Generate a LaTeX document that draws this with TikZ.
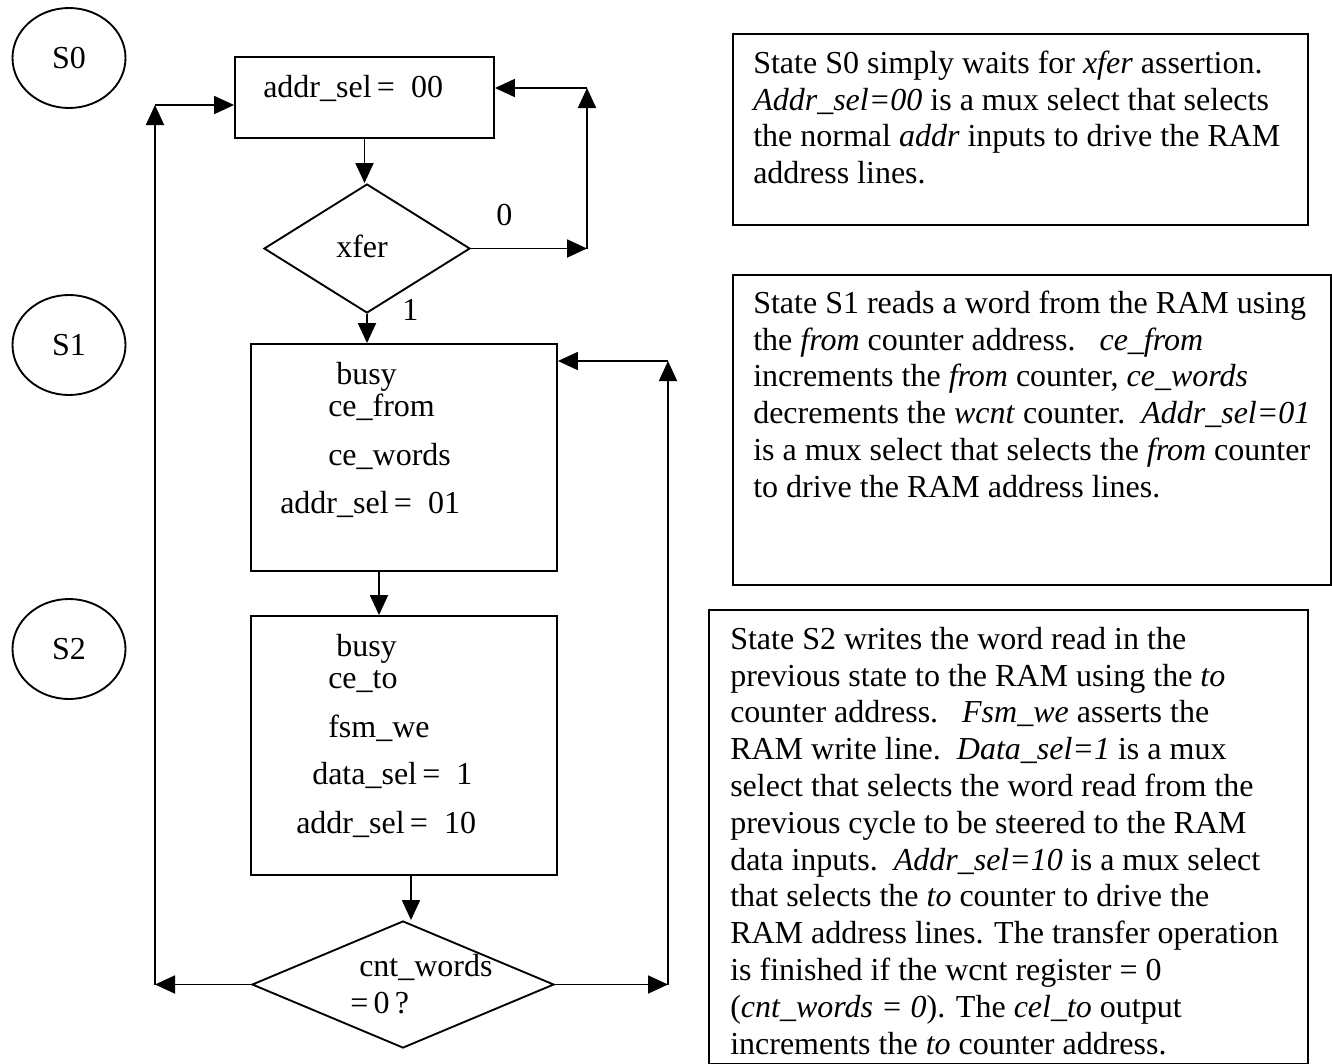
\documentclass[tikz,border=0pt]{standalone}
\usepackage{fontspec}
\setmainfont{Liberation Serif}
\usetikzlibrary{shapes.geometric,arrows.meta}
\begin{document}
\begin{tikzpicture}[x=0.75pt,y=-0.75pt,
  font=\fontsize{24}{27.6}\selectfont,
  ln/.style={line width=1.4pt},
  arr/.style={ln,-{Triangle[length=15pt,width=13.5pt]}},
  stbox/.style={draw,ln,rectangle,inner sep=0pt},
  dec/.style={draw,ln,diamond,inner sep=0pt},
  stlbl/.style={draw,ln,ellipse,inner sep=0pt,minimum width=84.75pt,minimum height=75pt},
  lbl/.style={inner sep=0pt,anchor=base west},
  note/.style={draw,ln,rectangle,inner sep=0pt,anchor=north west},
  notetext/.style={inner sep=0pt,anchor=north west,align=left}
]
\useasboundingbox (0,0) rectangle (1332,1064);

% state labels
\node[stlbl] (st0) at (69,58) {S0};
\node[stlbl] (st1) at (69,345) {S1};
\node[stlbl] (st2) at (69,649) {S2};

% flowchart shapes
\node[stbox,minimum width=194.25pt,minimum height=60.75pt] (s0box) at (364.5,97.5) {};
\node[dec,minimum width=154.5pt,minimum height=96.75pt] (xfer) at (367,248.5) {};
\node[stbox,minimum width=229.5pt,minimum height=170.25pt] (s1box) at (404,457.5) {};
\node[stbox,minimum width=229.5pt,minimum height=194.25pt] (s2box) at (404,745.5) {};
\node[dec,minimum width=226.5pt,minimum height=95.25pt] (cnt) at (403,984.5) {};

% texts in shapes
\node[lbl] (t00) at (263,97) {addr\_sel\,=~~00};
\node[lbl] (tx) at (336,257) {xfer};
\node[lbl] (tzero) at (496,225) {0};
\node[lbl] (tone) at (402,320) {1};
\node[lbl] (t11) at (336,384) {busy};
\node[lbl] (t12) at (328,416) {ce\_from};
\node[lbl] (t13) at (328,465) {ce\_words};
\node[lbl] (t14) at (280,513) {addr\_sel\,=~~01};
\node[lbl] (t21) at (336,656) {busy};
\node[lbl] (t22) at (328,688) {ce\_to};
\node[lbl] (t23) at (328,737) {fsm\_we};
\node[lbl] (t24) at (312,784) {data\_sel\,=~~1};
\node[lbl] (t25) at (296,833) {addr\_sel\,=~~10};
\node[lbl] (tc1) at (359,976) {cnt\_words};
\node[lbl] (tc2) at (350,1013) {=\,0\,?};

% helper coordinates
\coordinate (r0) at (587,248.5);
\coordinate (r0t) at (587,88);
\coordinate (a1) at (379,0);
\coordinate (a2) at (411,0);
\coordinate (l0) at (155,984.5);
\coordinate (l1) at (155,105);
\coordinate (q0) at (668,984.5);
\coordinate (q1) at (668,361);

% connectors
\draw[arr] (s0box.south) -- (s0box.south |- xfer.north);
\draw[arr] (xfer.east) -- (r0);
\draw[arr] (r0) -- (r0t);
\draw[arr] (r0t) -- (r0t -| s0box.east);
\draw[arr] (xfer.south) -- (xfer.south |- s1box.north);
\draw[arr] (s1box.south -| a1) -- (s2box.north -| a1);
\draw[arr] (s2box.south -| a2) -- (cnt.north -| a2);
\draw[arr] (cnt.west) -- (l0);
\draw[arr] (l0) -- (l1);
\draw[arr] (l1) -- (l1 -| s0box.west);
\draw[arr] (cnt.east) -- (q0);
\draw[arr] (q0) -- (q1);
\draw[arr] (q1) -- (q1 -| s1box.east);

% note boxes
\node[note,minimum width=431.25pt,minimum height=143.25pt] (n1) at (732,33) {};
\node[note,minimum width=448.5pt,minimum height=232.5pt] (n2) at (732,274) {};
\node[note,minimum width=449.25pt,minimum height=340.5pt] (n3) at (708,609) {};

\node[notetext] (n1t) at (753,47.2) {\strut State S0 simply waits for \textit{xfer} assertion.\\
\textit{Addr\_sel=00} is a mux select that selects\\
the normal \textit{addr} inputs to drive the RAM\\
address lines.};

\node[notetext] (n2t) at (753,287.2) {\strut State S1 reads a word from the RAM using\\
the \textit{from} counter address.\ \ \ \textit{ce\_from}\\
increments the \textit{from} counter, \textit{ce\_words}\\
decrements the \textit{wcnt} counter.\ \ \textit{Addr\_sel=01}\\
is a mux select that selects the \textit{from} counter\\
to drive the RAM address lines.};

\node[notetext] (n3t) at (730,623.2) {\strut State S2 writes the word read in the\\
previous state to the RAM using the \textit{to}\\
counter address.\ \ \ \textit{Fsm\_we} asserts the\\
RAM write line.\ \ \textit{Data\_sel=1} is a mux\\
select that selects the word read from the\\
previous cycle to be steered to the RAM\\
data inputs.\ \ \textit{Addr\_sel=10} is a mux select\\
that selects the \textit{to} counter to drive the\\
RAM address lines. The transfer operation\\
is finished if the wcnt register = 0\\
(\textit{cnt\_words = 0}). The \textit{cel\_to} output\\
increments the \textit{to} counter address.};
\end{tikzpicture}
\end{document}
